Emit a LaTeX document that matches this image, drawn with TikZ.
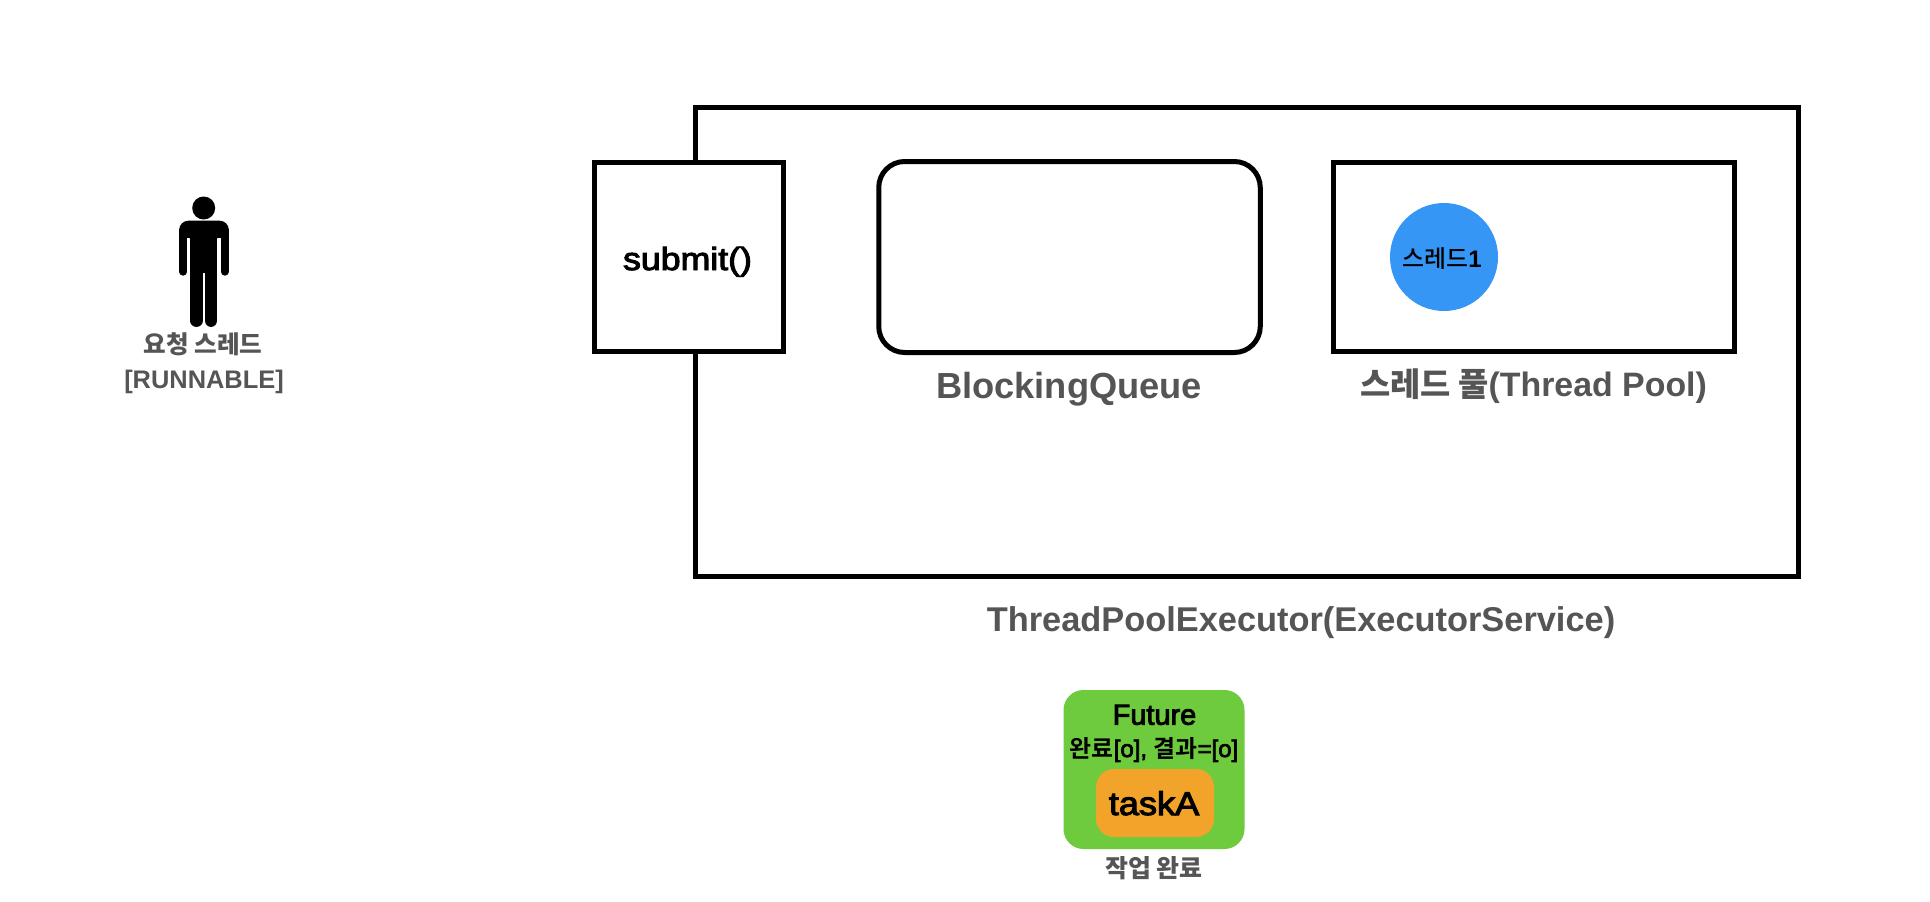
\documentclass[tikz,border=0pt]{standalone}
\usepackage{fontspec}
\setmainfont{Liberation Sans}[BoldFont={Liberation Sans Bold}]
\newfontfamily\krf{Noto Sans CJK KR Bold}
\newfontfamily\medf{Liberation Sans}[UprightFeatures={FakeBold=3}]
\newfontfamily\krm{Noto Sans CJK KR Medium}
\definecolor{labelgray}{HTML}{555555}
\definecolor{threadblue}{HTML}{3696F6}
\definecolor{futuregreen}{HTML}{6ECB3E}
\definecolor{taskorange}{HTML}{F2A32A}
\newcommand{\fs}[1]{\fontsize{#1}{#1}\selectfont}
\tikzset{
  boxline/.style={draw=black,line width=5bp,inner sep=0pt,outer sep=0pt,fill=white},
  grouplabel/.style={anchor=base,inner sep=0pt,text=labelgray,font=\bfseries},
  inner label/.style={anchor=base,inner sep=0pt,text=black},
}
\begin{document}
\begin{tikzpicture}[x=1bp,y=-1bp]
\useasboundingbox[fill=white] (0,0) rectangle (1930,902);
% outer
\node[boxline,minimum width=1103bp,minimum height=468bp] (outer) at (1246.5,342) {};
\node[boxline,minimum width=189bp,minimum height=188.5bp] (submit) at (688.5,257) {};
\node[boxline,rounded corners=26bp,minimum width=381.5bp,minimum height=191bp] (queue) at (1069.5,257) {};
\node[boxline,minimum width=401bp,minimum height=188.5bp] (pool) at (1534,257) {};
\node[circle,fill=threadblue,minimum size=108bp,inner sep=0pt] (thread) at (1444,257) {};
\node[fill=futuregreen,rounded corners=20bp,minimum width=181bp,minimum height=159bp,inner sep=0pt] (future) at (1154,769.5) {};
\node[fill=taskorange,rounded corners=18bp,minimum width=118bp,minimum height=68bp,inner sep=0pt] (task) at (1155,803) {};
% person
\fill[black] (203.7,208) circle (11.5);
\fill[black,rounded corners=9bp] (179.3,238) -- (179.3,220.7) -- (228.7,220.7) -- (228.7,238) -- cycle;
\fill[black] (186,229) rectangle (221.5,238);
\fill[black] (190,230) rectangle (217.35,272.7);
\draw[black,line width=8bp,line cap=round] (183.3,230) -- (183.3,271.7);
\draw[black,line width=8bp,line cap=round] (224.7,230) -- (224.7,271.7);
\draw[black,line width=12.7bp,line cap=round] (196.4,268) -- (196.4,320.6);
\draw[black,line width=12.7bp,line cap=round] (211,268) -- (211,320.6);
% labels
\node[grouplabel] (l1) at (203,353) {\krf\fs{24.7}요청 스레드};
\node[grouplabel] (l2) at (204,388) {\fs{25.5}[RUNNABLE]};
\node[inner label] (l3) at (687.5,270) {\scalebox{1.12}[1]{\medf\fs{32}submit()}};
\node[grouplabel] (l4) at (1069,398) {\fs{36.4}BlockingQueue};
\node[grouplabel] (l5) at (1533.5,396) {\krf\fs{33}스레드 풀\bfseries\rmfamily\fs{34}(Thread Pool)};
\node[grouplabel] (l6) at (1301,631) {\fs{34.5}ThreadPoolExecutor(ExecutorService)};
\node[inner label] (l7) at (1442,267) {\fs{24}\krm 스레드\bfseries\rmfamily 1};
\node[inner label] (l8) at (1154.5,724.7) {\medf\fs{29}Future};
\node[inner label] (l9) at (1154,757) {\fs{24}\krf 완료\medf[o], \krf 결과\medf=[o]};
\node[inner label] (l10) at (1154,815) {\scalebox{1.1}[1]{\medf\fs{33}taskA}};
\node[grouplabel] (l11) at (1154,877) {\krf\fs{25}작업 완료};
\end{tikzpicture}
\end{document}
